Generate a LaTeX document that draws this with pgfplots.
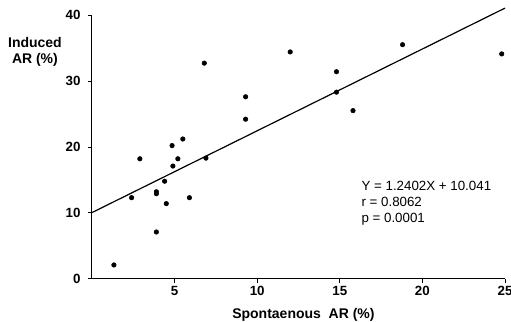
\documentclass[border=0pt]{standalone}
\usepackage{fontspec}
\setmainfont{Liberation Sans}
\usepackage{pgfplots}
\pgfplotsset{compat=1.18}
\begin{document}
\begin{tikzpicture}
\begin{axis}[
  scale only axis, width=310pt, height=198pt,
  xmin=0, xmax=25, ymin=0, ymax=40,
  axis lines=left, axis line style={-, line width=0.8pt},
  xtick={5,10,15,20,25}, ytick={0,10,20,30,40},
  tick align=outside, major tick length=3pt,
  tick style={black, line width=0.6pt},
  ticklabel style={font=\bfseries\fontsize{10}{12}\selectfont},
  /pgf/number format/assume math mode=true,
  yticklabel style={xshift=-2pt},
  xticklabel style={yshift=1pt},
  clip=false,
]
\addplot[only marks, mark=*, mark size=1.7pt, black] coordinates {
  (1.33,2.1) (2.9,18.2) (2.4,12.3) (4.4,14.8) (3.9,13.2) (3.9,12.9)
  (4.5,11.4) (3.9,7.1) (4.9,17.1) (5.2,18.2) (5.9,12.3) (6.9,18.3)
  (4.85,20.2) (5.5,21.2) (6.8,32.7) (9.3,27.6) (9.3,24.2) (12.0,34.4)
  (14.8,31.4) (14.8,28.3) (15.8,25.5) (18.8,35.5) (24.8,34.1)
};
\addplot[black, line width=0.9pt] coordinates {(0,10.041) (25,41.046)};
\node[anchor=north west, align=left, font=\fontsize{10}{12}\selectfont, inner sep=0pt]
  at (axis cs:16.3,14.9) {Y = 1.2402X + 10.041\\r = 0.8062\\p = 0.0001};
\node[align=center, font=\bfseries\fontsize{10.5}{12.5}\selectfont, inner sep=0pt]
  at (axis cs:-3.45,34.4) {Induced\\AR (\%)};
\node[font=\bfseries\fontsize{10.5}{12.5}\selectfont, inner sep=0pt]
  at (axis cs:12.8,-5.4) {Spontaenous\ \ AR (\%)};
\end{axis}
\pgfresetboundingbox
\useasboundingbox ([xshift=-69pt,yshift=-32.25pt]current axis.south west) rectangle ([xshift=4.5pt,yshift=11.25pt]current axis.north east);
\end{tikzpicture}
\end{document}
